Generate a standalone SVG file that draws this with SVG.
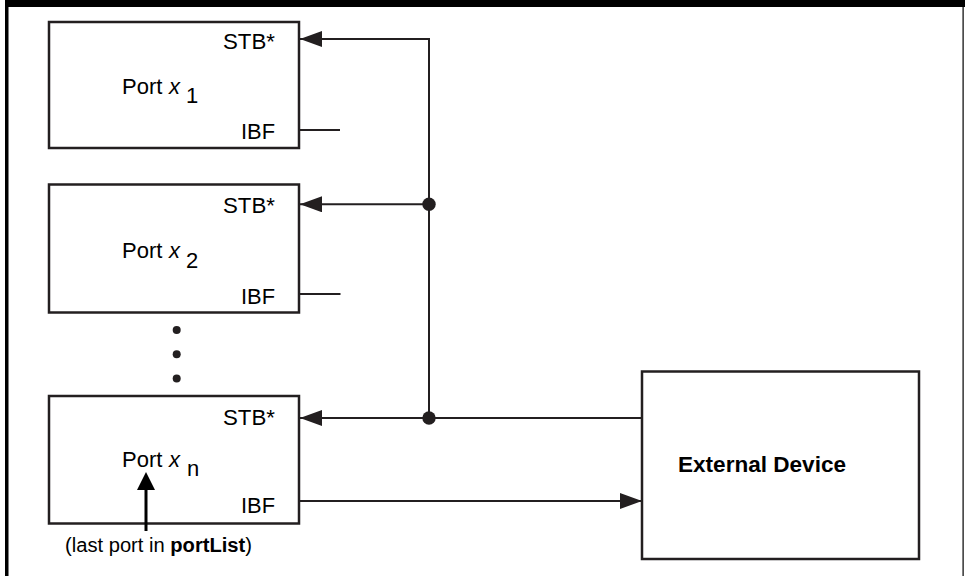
<svg xmlns="http://www.w3.org/2000/svg" width="965" height="576" viewBox="0 0 965 576">
<style>
  .box{fill:#fff;stroke:#231f20;stroke-width:2.5}
  .ln{fill:none;stroke:#231f20;stroke-width:2}
  .t{font-family:"Liberation Sans",Arial,sans-serif;font-size:22px;fill:#000}
  .c{font-size:20px}
  .b{font-weight:bold}
  .i{font-style:italic}
  .dot{fill:#231f20}
</style>
<defs>
  <marker id="ah" markerUnits="userSpaceOnUse" markerWidth="24" markerHeight="18" refX="22" refY="8" orient="auto">
    <polygon points="0,0 22,8 0,16" fill="#231f20"/>
  </marker>
</defs>
<rect width="965" height="576" fill="#fff"/>
<g id="frame">
  <rect x="5" y="0" width="960" height="7" fill="#000"/>
  <rect x="5" y="0" width="3.5" height="576" fill="#000"/>
  <rect x="962.5" y="0" width="1.2" height="576" fill="#000"/>
</g>
<g id="port1">
  <rect class="box" x="49" y="22" width="250" height="126"/>
  <text class="t" x="223" y="48.5" textLength="52" lengthAdjust="spacingAndGlyphs">STB*</text>
  <text class="t" x="241" y="139" textLength="34" lengthAdjust="spacingAndGlyphs">IBF</text>
  <text class="t" y="94"><tspan x="122">Port</tspan><tspan class="i" x="169">x</tspan><tspan x="186" y="103">1</tspan></text>
</g>
<g id="port2">
  <rect class="box" x="49" y="184.5" width="250" height="128"/>
  <text class="t" x="223" y="213" textLength="52" lengthAdjust="spacingAndGlyphs">STB*</text>
  <text class="t" x="241" y="304" textLength="34" lengthAdjust="spacingAndGlyphs">IBF</text>
  <text class="t" y="258"><tspan x="122">Port</tspan><tspan class="i" x="169">x</tspan><tspan x="186" y="268">2</tspan></text>
</g>
<g id="ellipsis">
  <circle class="dot" cx="176.7" cy="330" r="4"/>
  <circle class="dot" cx="176.7" cy="354.3" r="4"/>
  <circle class="dot" cx="176.7" cy="378.5" r="4"/>
</g>
<g id="portn">
  <rect class="box" x="49" y="396" width="250" height="127.5"/>
  <text class="t" x="223" y="425" textLength="52" lengthAdjust="spacingAndGlyphs">STB*</text>
  <text class="t" x="241" y="513" textLength="34" lengthAdjust="spacingAndGlyphs">IBF</text>
  <text class="t" y="467"><tspan x="122">Port</tspan><tspan class="i" x="169">x</tspan><tspan x="187" y="476">n</tspan></text>
</g>
<g id="external">
  <rect class="box" x="642" y="371.5" width="277" height="187.5"/>
  <text class="t b" x="678" y="472" textLength="168" lengthAdjust="spacingAndGlyphs">External Device</text>
</g>
<g id="caption">
  <text class="t c" x="65" y="552" textLength="187" lengthAdjust="spacingAndGlyphs">(last port in <tspan class="b">portList</tspan>)</text>
</g>
<g id="connectors">
  <polyline class="ln" points="429,418 429,39 300,39" marker-end="url(#ah)"/>
  <line class="ln" x1="429" y1="204.3" x2="300" y2="204.3" marker-end="url(#ah)"/>
  <line class="ln" x1="642" y1="418" x2="300" y2="418" marker-end="url(#ah)"/>
  <circle class="dot" cx="429" cy="204.3" r="6.7"/>
  <circle class="dot" cx="429" cy="418" r="6.7"/>
  <line class="ln" x1="300" y1="130" x2="340" y2="130"/>
  <line class="ln" x1="300" y1="294" x2="340.5" y2="294"/>
  <line class="ln" x1="300" y1="501" x2="642" y2="501" marker-end="url(#ah)"/>
  <line x1="146" y1="531" x2="146" y2="488" stroke="#000" stroke-width="3"/>
  <polygon points="146,472 137,490 155,490" fill="#000"/>
</g>
</svg>
